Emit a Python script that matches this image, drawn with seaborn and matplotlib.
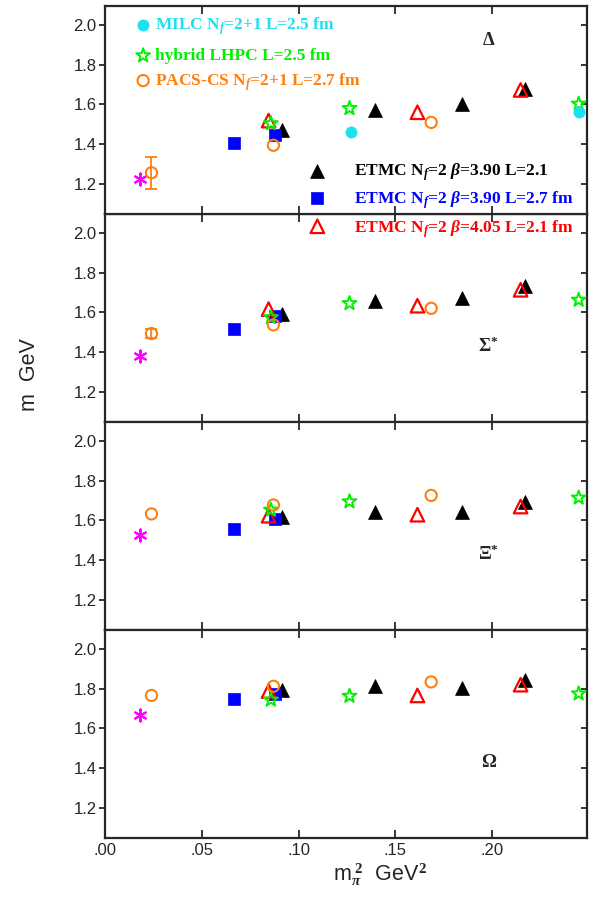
import numpy as np
import matplotlib
matplotlib.use("Agg")
import matplotlib.pyplot as plt
import matplotlib.ticker as mticker
import seaborn as sns

# pion mass squared (GeV^2) for each data set
etmc390_x = [0.0914, 0.1393, 0.1846, 0.2168]
etmc390_27_x = [0.0667, 0.0876]
etmc405_x = [0.0845, 0.1614, 0.2147]
lhpc_x = [0.0857, 0.1263, 0.2447]
milc_x = [0.127, 0.2447]
pacs_x = [0.024, 0.087, 0.1685]
phys_x = [0.0179]

panel_names = ["Δ", "Σ$^{*}$", "Ξ$^{*}$", "Ω"]

# masses (GeV), one list per panel
etmc390_y = [[1.473, 1.574, 1.603, 1.678],
             [1.592, 1.659, 1.671, 1.735],
             [1.619, 1.641, 1.641, 1.692],
             [1.791, 1.812, 1.805, 1.842]]
etmc390_27_y = [[1.405, 1.447], [1.516, 1.583], [1.557, 1.608], [1.749, 1.775]]
etmc405_y = [[1.519, 1.561, 1.673],
             [1.617, 1.634, 1.714],
             [1.624, 1.629, 1.670],
             [1.788, 1.766, 1.820]]
lhpc_y = [[1.505, 1.581, 1.603],
          [1.575, 1.646, 1.663],
          [1.653, 1.695, 1.714],
          [1.744, 1.763, 1.775]]
milc_y = [[1.463, 1.564], None, None, None]
pacs_y = [[1.257, 1.395, 1.510],
          [1.494, 1.538, 1.621],
          [1.633, 1.678, 1.726],
          [1.766, 1.812, 1.834]]
pacs_err = [[0.08, 0, 0], [0.022, 0, 0], [0, 0, 0], [0, 0, 0]]
phys_y = [[1.228], [1.381], [1.526], [1.668]]

x_ticks = [0.0, 0.05, 0.10, 0.15, 0.20]
y_ticks = [1.2, 1.4, 1.6, 1.8, 2.0]

CYAN = "#1ee0f0"
GREEN = "#00f000"
ORANGE = "#ff7f0e"
BLUE = "#0000ff"
RED = "#ff0000"
MAGENTA = "#ff00ff"

sns.set_style("ticks")
plt.rcParams["font.family"] = ["Liberation Sans", "DejaVu Sans"]
plt.rcParams["mathtext.fontset"] = "custom"
plt.rcParams["mathtext.rm"] = "Liberation Serif:bold"
plt.rcParams["mathtext.it"] = "Liberation Serif:italic:bold"
plt.rcParams["mathtext.bf"] = "Liberation Serif:bold"

SERIF = dict(family=["Liberation Serif", "DejaVu Serif"], weight="bold", fontsize=12.5)


def pts(ax, x, y, marker, s, face, edge, lw=1.5, z=3, clip=True):
    sns.scatterplot(x=x, y=y, ax=ax, marker=marker, s=s, facecolor=face,
                    edgecolor=edge, linewidth=lw, zorder=z, legend=False,
                    clip_on=clip)


fig, axes = plt.subplots(4, 1, sharex=True, figsize=(5.98, 9.17), dpi=100)
fig.subplots_adjust(left=0.1756, right=0.9816, top=0.9935, bottom=0.0862, hspace=0)

asterisk = (6, 2, 0)
for i, ax in enumerate(axes):
    pts(ax, etmc390_x, etmc390_y[i], "^", 100, "black", "black", lw=0.5)
    pts(ax, etmc390_27_x, etmc390_27_y[i], "s", 70, BLUE, BLUE, lw=0.5)
    pts(ax, phys_x, phys_y[i], asterisk, 75, MAGENTA, MAGENTA, lw=1.5)
    pts(ax, etmc405_x, etmc405_y[i], "^", 95, "none", RED, lw=1.6)
    pts(ax, lhpc_x, lhpc_y[i], "*", 110, "none", GREEN, lw=1.4)
    if milc_y[i] is not None:
        pts(ax, milc_x, milc_y[i], "o", 65, CYAN, CYAN, lw=0.5)
    pts(ax, pacs_x, pacs_y[i], "o", 65, "none", ORANGE, lw=1.5)
    err = np.array(pacs_err[i])
    m = err > 0
    if m.any():
        ax.errorbar(np.array(pacs_x)[m], np.array(pacs_y[i])[m], yerr=err[m],
                    fmt="none", ecolor=ORANGE, elinewidth=1.3, capsize=4,
                    capthick=1.3, zorder=2)

    ax.set_xlim(0, 0.249)
    ax.set_ylim(1.05, 2.095)
    ax.set_xticks(x_ticks)
    ax.set_yticks(y_ticks)
    ax.yaxis.set_major_formatter(mticker.FormatStrFormatter("%.1f"))
    ax.xaxis.set_major_formatter(mticker.FuncFormatter(lambda v, p: f"{v:.2f}"[1:] if v >= 0 else f"{v:.2f}"))
    ax.tick_params(axis="x", direction="in", top=True, bottom=True, length=6, width=1.3, labelsize=12)
    ax.tick_params(axis="y", direction="out", left=True, right=True, length=4, width=1.3, labelsize=12, pad=2)
    for sp in ax.spines.values():
        sp.set_linewidth(1.6)
        sp.set_visible(True)
    ax.set_xlabel("")
    ax.set_ylabel("")
    ax.text(0.198, 1.43 if i else 1.92, panel_names[i], ha="center", va="center",
            **dict(SERIF, fontsize=13.5))
    # right-hand ticks point inward
    for t in ax.yaxis.get_major_ticks():
        t.tick2line.set_marker(matplotlib.lines.TICKLEFT)

for r in axes[1:]:
    r.set_zorder(1)
axes[0].set_zorder(5)

top = axes[0]
# upper legend block
pts(top, [0.0197], [2.0], "o", 65, CYAN, CYAN, lw=0.5)
top.text(0.026, 1.995, "MILC N$_{f}$=2+1 L=2.5 fm", color=CYAN, va="center", **SERIF)
pts(top, [0.0197], [1.846], "*", 110, "none", GREEN, lw=1.4)
top.text(0.026, 1.844, "hybrid LHPC L=2.5 fm", color=GREEN, va="center", **SERIF)
pts(top, [0.0197], [1.72], "o", 65, "none", ORANGE, lw=1.5)
top.text(0.026, 1.712, "PACS-CS N$_{f}$=2+1 L=2.7 fm", color=ORANGE, va="center", **SERIF)

# ETMC legend block
pts(top, [0.1097], [1.268], "^", 100, "black", "black", lw=0.5, z=6, clip=False)
top.text(0.1287, 1.26, r"ETMC N$_{f}$=2 $\beta$=3.90 L=2.1", color="black", va="center", **SERIF)
pts(top, [0.1097], [1.129], "s", 70, BLUE, BLUE, lw=0.5, z=6, clip=False)
top.text(0.1287, 1.117, r"ETMC N$_{f}$=2 $\beta$=3.90 L=2.7 fm", color=BLUE, va="center", **SERIF)
pts(top, [0.1097], [0.988], "^", 95, "none", RED, lw=1.6, z=6, clip=False)
top.text(0.1287, 0.975, r"ETMC N$_{f}$=2 $\beta$=4.05 L=2.1 fm", color=RED, va="center",
         clip_on=False, **SERIF)

lab = dict(family=["Liberation Sans Narrow", "Liberation Sans"], fontsize=15.5)
fig.text(0.05, 0.592, "m  GeV", rotation=90, ha="center", va="center", **lab)
fig.text(0.635, 0.046, r"m$_{\pi}^{\ 2}$  GeV$^{2}$", ha="center", va="center", **lab)

fig.savefig("out.png", dpi=100)
